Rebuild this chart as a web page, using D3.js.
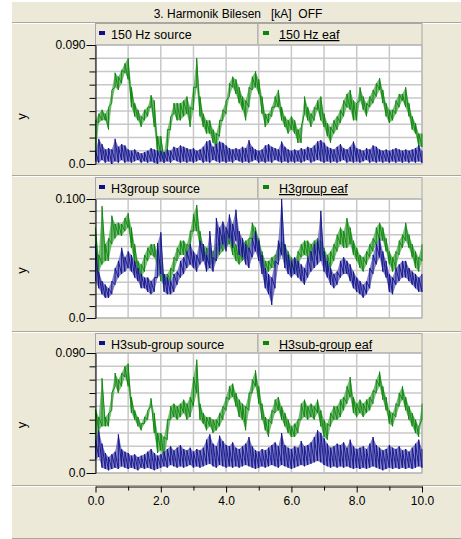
<!DOCTYPE html>
<html lang="en">
<head>
<meta charset="UTF-8">
<title>3. Harmonik Bilesen</title>
<script src="https://cdn.jsdelivr.net/npm/d3@7"></script>
<style>
  body { margin: 0; background: #fff; }
  svg text { font-family: Arial, "Liberation Sans", sans-serif; }
</style>
</head>
<body>
<script>
// ---- data (kA), one sample every 0.1 s, lo/hi envelope per sample ----
var step = 0.1;
var xMajor = [0, 2, 4, 6, 8, 10];
var xMinor = [1, 3, 5, 7, 9];
var titleText = "3. Harmonik Bilesen   [kA]  OFF";
var sourceNames = ["150 Hz source", "H3group source", "H3sub-group source"];
var eafNames = ["150 Hz eaf", "H3group eaf", "H3sub-group eaf"];
var yMax = [0.09, 0.1, 0.09];
var yMaxLabels = ["0.090", "0.100", "0.090"];

// panel 1 : 150 Hz
var p1EafLo = [.004,.031,.033,.033,.026,.046,.058,.056,.061,.069,
  .064,.043,.036,.033,.028,.033,.036,.043,.028,.006,
  .006,.001,.008,.026,.038,.033,.033,.036,.038,.028,
  .041,.058,.036,.028,.023,.023,.016,.011,.021,.033,
  .038,.051,.058,.053,.046,.041,.033,.043,.056,.058,
  .053,.038,.028,.031,.036,.043,.043,.033,.028,.023,
  .026,.023,.016,.016,.038,.033,.028,.033,.041,.033,
  .028,.021,.016,.023,.026,.031,.036,.043,.041,.033,
  .033,.048,.041,.036,.043,.046,.051,.056,.046,.036,
  .031,.033,.038,.043,.048,.043,.036,.026,.023,.013,
  .013];
var p1EafHi = [.033,.038,.041,.038,.043,.056,.069,.066,.071,.076,
  .080,.058,.046,.041,.036,.041,.043,.052,.048,.021,
  .021,.008,.026,.036,.046,.046,.046,.048,.051,.043,
  .058,.080,.051,.038,.033,.033,.026,.023,.033,.041,
  .048,.061,.066,.064,.058,.051,.048,.058,.066,.070,
  .064,.051,.038,.038,.043,.051,.056,.043,.036,.033,
  .036,.033,.026,.028,.051,.043,.038,.043,.048,.051,
  .038,.031,.028,.033,.036,.041,.048,.053,.056,.048,
  .046,.058,.051,.046,.051,.056,.061,.065,.056,.046,
  .041,.041,.048,.053,.053,.058,.046,.036,.031,.023,
  .023];
var p1SrcLo = [.002,.001,.003,.001,.002,.000,.002,.001,.003,.001,
  .002,.001,.002,.003,.001,.002,.001,.002,.001,.000,
  .002,.001,.002,.001,.003,.002,.001,.002,.001,.002,
  .001,.002,.003,.001,.002,.001,.003,.002,.001,.002,
  .001,.002,.001,.003,.002,.001,.002,.001,.002,.003,
  .001,.002,.001,.002,.001,.003,.002,.001,.002,.001,
  .002,.001,.002,.001,.002,.003,.001,.002,.003,.002,
  .001,.002,.001,.002,.001,.002,.003,.001,.002,.001,
  .002,.001,.002,.003,.001,.002,.001,.002,.001,.002,
  .001,.002,.001,.002,.001,.002,.001,.002,.001,.002,
  .001];
var p1SrcHi = [.010,.019,.015,.011,.012,.011,.019,.013,.015,.014,
  .011,.010,.011,.009,.008,.009,.010,.012,.011,.010,
  .010,.009,.011,.010,.013,.012,.014,.013,.012,.011,
  .012,.010,.011,.013,.017,.018,.013,.015,.017,.016,
  .014,.012,.011,.012,.011,.013,.012,.018,.013,.011,
  .010,.011,.014,.015,.013,.012,.011,.017,.013,.011,
  .010,.011,.010,.012,.011,.013,.012,.014,.017,.018,
  .016,.013,.012,.011,.013,.015,.012,.011,.013,.017,
  .012,.011,.010,.012,.011,.014,.013,.011,.010,.011,
  .010,.011,.012,.011,.010,.011,.010,.011,.012,.014,
  .010];

// panel 2 : H3group
var p2EafLo = [.039,.039,.045,.048,.048,.062,.067,.070,.069,.073,
  .076,.059,.045,.037,.034,.039,.048,.053,.051,.042,
  .031,.028,.028,.031,.039,.048,.053,.053,.051,.059,
  .073,.073,.059,.051,.048,.045,.045,.048,.053,.056,
  .059,.062,.053,.048,.045,.048,.051,.056,.067,.065,
  .053,.045,.037,.039,.042,.042,.051,.053,.048,.042,
  .037,.037,.042,.051,.053,.051,.048,.053,.056,.051,
  .045,.039,.042,.048,.056,.062,.059,.059,.062,.053,
  .048,.042,.039,.045,.051,.056,.062,.065,.065,.056,
  .045,.039,.042,.053,.059,.065,.059,.051,.042,.039,
  .048];
var p2EafHi = [.076,.053,.094,.062,.067,.086,.079,.080,.079,.084,
  .088,.076,.062,.048,.045,.053,.059,.062,.062,.056,
  .045,.037,.037,.042,.051,.059,.065,.065,.062,.073,
  .087,.095,.073,.062,.059,.059,.056,.062,.065,.070,
  .073,.076,.070,.062,.056,.062,.065,.067,.080,.076,
  .067,.056,.048,.048,.051,.053,.062,.065,.062,.056,
  .051,.048,.056,.062,.065,.065,.062,.065,.067,.065,
  .059,.053,.056,.062,.070,.076,.073,.084,.076,.065,
  .059,.053,.051,.056,.062,.067,.076,.080,.076,.067,
  .056,.051,.056,.065,.070,.080,.070,.062,.056,.051,
  .062];
var p2SrcLo = [.031,.025,.020,.017,.017,.020,.028,.034,.037,.039,
  .042,.039,.034,.031,.025,.025,.022,.020,.022,.034,
  .037,.022,.020,.020,.022,.028,.034,.037,.042,.045,
  .042,.039,.045,.048,.039,.042,.039,.048,.056,.062,
  .056,.067,.059,.065,.053,.051,.045,.042,.051,.056,
  .048,.037,.025,.020,.011,.025,.045,.053,.042,.037,
  .034,.037,.034,.031,.028,.034,.039,.042,.045,.048,
  .039,.034,.028,.025,.028,.034,.037,.037,.031,.025,
  .022,.020,.017,.020,.025,.037,.045,.051,.039,.034,
  .022,.020,.028,.031,.034,.034,.031,.028,.025,.022,
  .022];
var p2SrcHi = [.062,.039,.031,.028,.025,.031,.042,.048,.059,.051,
  .056,.053,.048,.042,.037,.034,.034,.031,.034,.063,
  .072,.037,.034,.031,.037,.039,.048,.051,.056,.062,
  .056,.053,.065,.062,.053,.073,.051,.084,.076,.081,
  .076,.087,.079,.091,.073,.067,.062,.059,.067,.073,
  .065,.053,.042,.037,.034,.048,.065,.100,.062,.053,
  .048,.051,.048,.045,.042,.051,.056,.062,.065,.090,
  .056,.048,.042,.037,.039,.048,.051,.048,.045,.039,
  .034,.031,.028,.031,.042,.053,.062,.067,.056,.048,
  .037,.034,.042,.045,.048,.048,.042,.039,.037,.034,
  .037];

// panel 3 : H3sub-group
var p3EafLo = [.012,.032,.035,.035,.035,.047,.065,.060,.065,.072,
  .065,.045,.040,.035,.032,.037,.040,.050,.030,.015,
  .017,.010,.025,.040,.042,.040,.042,.045,.040,.042,
  .050,.060,.040,.037,.032,.035,.030,.032,.035,.040,
  .047,.055,.057,.050,.042,.040,.032,.047,.060,.065,
  .052,.040,.032,.027,.037,.045,.047,.040,.035,.030,
  .027,.027,.030,.040,.042,.040,.042,.040,.045,.035,
  .027,.025,.035,.040,.040,.042,.047,.052,.057,.045,
  .042,.045,.042,.045,.047,.052,.060,.065,.055,.047,
  .037,.035,.042,.050,.055,.047,.040,.035,.030,.027,
  .040];
var p3EafHi = [.048,.042,.071,.042,.045,.060,.075,.070,.075,.080,
  .082,.057,.047,.042,.037,.042,.047,.056,.045,.030,
  .030,.027,.040,.050,.052,.050,.052,.055,.052,.057,
  .072,.085,.052,.045,.042,.042,.040,.040,.045,.050,
  .057,.065,.067,.060,.055,.052,.050,.060,.070,.077,
  .065,.052,.042,.040,.047,.055,.057,.050,.045,.040,
  .035,.037,.040,.052,.055,.050,.052,.050,.055,.047,
  .040,.037,.045,.050,.050,.055,.057,.065,.072,.057,
  .052,.055,.052,.055,.057,.062,.070,.076,.065,.057,
  .047,.045,.052,.060,.065,.057,.050,.045,.040,.035,
  .052];
var p3SrcLo = [.010,.012,.004,.003,.002,.003,.004,.003,.005,.004,
  .003,.004,.003,.002,.004,.003,.004,.003,.002,.003,
  .004,.005,.004,.006,.005,.004,.005,.004,.005,.006,
  .004,.005,.004,.005,.006,.007,.005,.004,.006,.005,
  .004,.005,.004,.005,.004,.005,.006,.005,.004,.003,
  .004,.005,.004,.005,.006,.005,.004,.006,.005,.004,
  .003,.004,.005,.006,.005,.006,.007,.008,.009,.008,
  .006,.005,.004,.005,.004,.005,.004,.005,.004,.003,
  .004,.003,.004,.003,.004,.005,.004,.003,.002,.003,
  .004,.003,.004,.003,.004,.003,.004,.003,.004,.005,
  .004];
var p3SrcHi = [.025,.032,.022,.015,.012,.014,.016,.029,.018,.016,
  .015,.013,.014,.012,.013,.014,.016,.018,.015,.013,
  .014,.016,.018,.020,.017,.019,.021,.018,.017,.019,
  .016,.018,.017,.019,.025,.029,.022,.020,.028,.024,
  .021,.020,.023,.019,.018,.020,.022,.027,.020,.017,
  .016,.018,.017,.019,.021,.023,.020,.030,.021,.019,
  .018,.020,.019,.024,.020,.021,.023,.027,.032,.030,
  .026,.022,.019,.020,.022,.021,.023,.019,.025,.020,
  .018,.019,.020,.018,.022,.027,.021,.019,.017,.018,
  .021,.019,.018,.020,.017,.018,.016,.019,.022,.025,
  .018];

var sources = [{lo: p1SrcLo, hi: p1SrcHi}, {lo: p2SrcLo, hi: p2SrcHi}, {lo: p3SrcLo, hi: p3SrcHi}];
var eafs = [{lo: p1EafLo, hi: p1EafHi}, {lo: p2EafLo, hi: p2EafHi}, {lo: p3EafLo, hi: p3EafHi}];

// ---- layout ----
var beige = "#ece9d8", edge = "#aca899", gridCol = "#c8c8c8";
var navy = "#10108a", green = "#0a840a";
var layout = [
  {sep: 22, leg: 23, top: 45, bottom: 164},
  {sep: 175, leg: 177, top: 199, bottom: 318},
  {sep: 331, leg: 333, top: 353, bottom: 473}
];
var left = 95.5, right = 422;

var svg = d3.select("body").append("svg")
    .attr("width", 461)
    .attr("height", 539);

svg.append("rect").attr("width", 461).attr("height", 539).attr("fill", "#fff");
svg.append("rect").attr("x", 12).attr("y", 2).attr("width", 449).attr("height", 537).attr("fill", beige);
svg.append("line").attr("x1", 12).attr("x2", 461).attr("y1", 538.5).attr("y2", 538.5).attr("stroke", edge);

function sepLine(y) {
  svg.append("line").attr("x1", 12).attr("x2", 461).attr("y1", y + 0.5).attr("y2", y + 0.5).attr("stroke", edge);
  svg.append("line").attr("x1", 13).attr("x2", 461).attr("y1", y + 1.5).attr("y2", y + 1.5).attr("stroke", "#fff");
}

svg.append("text")
    .attr("x", 238)
    .attr("y", 17.5)
    .attr("text-anchor", "middle")
    .attr("font-size", 12)
    .style("white-space", "pre")
    .text(titleText);

var x = d3.scaleLinear().domain([0, 10]).range([left, right]);

// lo -> hi at every sample, then on to the next sample: a dense saw like the raw trace
function trace(s, y) {
  var pts = [];
  s.lo.forEach(function (v, i) {
    pts.push([x(i * step), y(v)]);
    pts.push([x(i * step), y(s.hi[i])]);
  });
  return d3.line()(pts);
}
function band(s, y) {
  return d3.area()
      .x(function (d, i) { return x(i * step); })
      .y0(function (d) { return y(d); })
      .y1(function (d, i) { return y(s.hi[i]); })(s.lo);
}

layout.forEach(function (L, p) {
  sepLine(L.sep);
  var g = svg.append("g");
  var y = d3.scaleLinear().domain([0, yMax[p]]).range([L.bottom, L.top]);
  var yTicks = d3.range(0, Math.round(yMax[p] * 100) + 1).map(function (k) { return k / 100; });

  // legend cells
  [[left, 258], [258, right]].forEach(function (c) {
    g.append("rect")
        .attr("x", c[0]).attr("y", L.leg + 0.5)
        .attr("width", c[1] - c[0]).attr("height", L.top - L.leg - 0.5)
        .attr("fill", beige).attr("stroke", "#a7a6aa");
  });
  g.append("rect").attr("x", 99).attr("y", L.leg + 8).attr("width", 6).attr("height", 4).attr("fill", navy);
  g.append("text").attr("x", 111).attr("y", L.leg + 16).attr("font-size", 12.5).text(sourceNames[p]);
  g.append("rect").attr("x", 263).attr("y", L.leg + 8).attr("width", 6).attr("height", 4).attr("fill", green);
  g.append("text").attr("x", 279).attr("y", L.leg + 16).attr("font-size", 12.5)
      .attr("text-decoration", "underline").text(eafNames[p]);

  // plot area + grid
  g.append("rect").attr("x", left).attr("y", L.top).attr("width", right - left)
      .attr("height", L.bottom - L.top).attr("fill", "#fff");
  g.selectAll(".hg").data(yTicks).enter().append("line")
      .attr("x1", left).attr("x2", right)
      .attr("y1", function (d) { return y(d); }).attr("y2", function (d) { return y(d); })
      .attr("stroke", gridCol).attr("stroke-width", 1.5);
  g.selectAll(".vg").data(xMajor.concat(xMinor)).enter().append("line")
      .attr("x1", function (d) { return x(d); }).attr("x2", function (d) { return x(d); })
      .attr("y1", L.top).attr("y2", L.bottom)
      .attr("stroke", gridCol).attr("stroke-width", 1.5);
  g.append("rect").attr("x", left).attr("y", L.top).attr("width", right - left)
      .attr("height", L.bottom - L.top).attr("fill", "none").attr("stroke", "#b0b0b0");

  // traces
  [[eafs[p], green, "#4aa54a"], [sources[p], navy, "#5a5ab4"]].forEach(function (t) {
    g.append("path").attr("d", band(t[0], y)).attr("fill", t[2]).attr("opacity", 0.75);
    g.append("path").attr("d", trace(t[0], y)).attr("fill", "none")
        .attr("stroke", t[1]).attr("stroke-width", 0.9).attr("stroke-linejoin", "bevel");
  });

  // y axis
  var minor = g.append("g").attr("transform", "translate(" + left + ",0)")
      .call(d3.axisLeft(y).tickValues(yTicks).tickSize(6).tickSizeOuter(0).tickFormat(""));
  minor.select(".domain").attr("stroke", "#000");
  var major = g.append("g").attr("transform", "translate(" + left + ",0)")
      .call(d3.axisLeft(y).tickValues([0, yMax[p]]).tickSize(9).tickSizeOuter(0).tickPadding(1)
          .tickFormat(function (d) { return d === 0 ? "0.0" : yMaxLabels[p]; }));
  major.select(".domain").remove();
  major.selectAll("text").attr("font-size", 12).attr("font-family", null).attr("fill", "#000");

  g.append("text")
      .attr("transform", "translate(26," + ((L.top + L.bottom) / 2 + 12) + ") rotate(-90)")
      .attr("text-anchor", "middle")
      .attr("font-size", 13)
      .text("y");
});

// x axis panel
sepLine(485);
var ax = svg.append("g").attr("transform", "translate(0,486.5)");
ax.call(d3.axisBottom(x).tickValues(xMinor).tickSize(4).tickSizeOuter(0).tickFormat(""));
var axMaj = svg.append("g").attr("transform", "translate(0,486.5)")
    .call(d3.axisBottom(x).tickValues(xMajor).tickSize(6).tickSizeOuter(0).tickPadding(4)
        .tickFormat(d3.format(".1f")));
axMaj.select(".domain").remove();
axMaj.selectAll("text").attr("font-size", 12).attr("font-family", null).attr("fill", "#000");
</script>
</body>
</html>
